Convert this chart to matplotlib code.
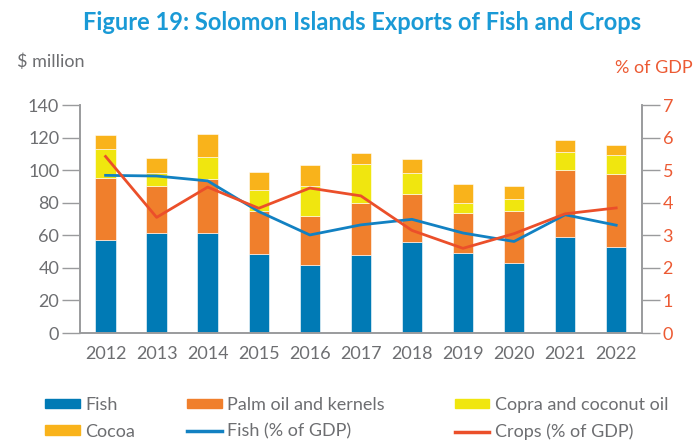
import numpy as np
import matplotlib
matplotlib.use("Agg")
import matplotlib.pyplot as plt
from matplotlib.patches import Patch
from matplotlib.lines import Line2D

plt.rcParams['font.family'] = ['Lato', 'DejaVu Sans']

years = ['2012', '2013', '2014', '2015', '2016', '2017', '2018', '2019', '2020', '2021', '2022']

# $ million
fish = [57.2, 61.7, 61.7, 48.8, 41.5, 48.2, 56.0, 49.3, 43.1, 58.9, 52.9]
palm = [37.8, 28.6, 32.7, 26.4, 30.6, 31.5, 29.4, 24.5, 31.9, 41.2, 44.8]
copra = [17.8, 8.2, 13.9, 12.7, 18.2, 24.1, 12.7, 6.1, 7.4, 10.9, 11.6]
cocoa = [8.8, 9.2, 13.7, 11.0, 12.7, 6.6, 9.0, 11.7, 7.7, 7.7, 6.0]

# % of GDP
fish_gdp = [4.84, 4.82, 4.67, 3.73, 3.01, 3.32, 3.49, 3.07, 2.81, 3.63, 3.31]
crops_gdp = [5.42, 3.55, 4.48, 3.83, 4.45, 4.21, 3.15, 2.60, 3.05, 3.66, 3.84]

c_fish = '#007ab5'
c_palm = '#f07f2c'
c_copra = '#f0e60f'
c_cocoa = '#f9b31b'
c_fish_line = '#1281c2'
c_crops_line = '#eb4f2a'
c_orange_txt = '#ec5a33'
c_grey = '#6d6e71'
c_spine = '#9a9b9d'

fig = plt.figure(figsize=(6.96, 4.44), dpi=100)
ax = fig.add_axes([0.115, 0.25, 0.807, 0.5135])
ax2 = ax.twinx()

x = np.arange(len(years))
w = 0.4
b1 = np.array(fish)
b2 = b1 + np.array(palm)
b3 = b2 + np.array(copra)
ax.bar(x, fish, w, color=c_fish, edgecolor='white', linewidth=0.4)
ax.bar(x, palm, w, bottom=b1, color=c_palm, edgecolor='white', linewidth=0.4)
ax.bar(x, copra, w, bottom=b2, color=c_copra, edgecolor='white', linewidth=0.4)
ax.bar(x, cocoa, w, bottom=b3, color=c_cocoa, edgecolor='white', linewidth=0.4)

ax2.plot(x, fish_gdp, color=c_fish_line, lw=2)
ax2.plot(x, crops_gdp, color=c_crops_line, lw=2)

ax.set_xlim(-0.5, 10.5)
ax.set_ylim(0, 140)
ax.set_yticks(range(0, 141, 20))
ax2.set_ylim(0, 7)
ax2.set_yticks(range(0, 8))
ax.set_xticks(x)
ax.set_xticklabels(years)

for a in (ax, ax2):
    a.spines['top'].set_visible(False)
    for s in ('left', 'right', 'bottom'):
        a.spines[s].set_color(c_spine)
        a.spines[s].set_linewidth(1.2)
ax.tick_params(axis='y', length=13, width=1, color=c_spine, labelsize=13, labelcolor=c_grey, pad=2)
ax.tick_params(axis='x', length=0, labelsize=13, labelcolor=c_grey, pad=9)
ax2.tick_params(axis='y', length=13, width=1, color=c_spine, labelsize=13, labelcolor=c_orange_txt, pad=2)

fig.text(0.52, 0.95, 'Figure 19: Solomon Islands Exports of Fish and Crops',
         ha='center', va='center', fontsize=17, fontweight='bold', color='#1a9ad6')
fig.text(0.025, 0.86, '$ million', ha='left', va='center', fontsize=13, color=c_grey)
fig.text(0.995, 0.847, '% of GDP', ha='right', va='center', fontsize=13, color=c_orange_txt)

# legend: three columns of two entries each
cols = [
    ([Patch(color=c_fish), Patch(color=c_cocoa)], ['Fish', 'Cocoa'], 0.065),
    ([Patch(color=c_palm), Line2D([], [], color=c_fish_line, lw=2.5)],
     ['Palm oil and kernels', 'Fish (% of GDP)'], 0.269),
    ([Patch(color=c_copra), Line2D([], [], color=c_crops_line, lw=2.5)],
     ['Copra and coconut oil', 'Crops (% of GDP)'], 0.654),
]
for handles, labels, xpos in cols:
    leg = fig.legend(handles, labels, loc='upper left', bbox_to_anchor=(xpos, 0.106),
                     frameon=False, fontsize=13, handlelength=1.9, handleheight=0.45,
                     handletextpad=0.3, labelspacing=0.6, borderaxespad=0, borderpad=0)
    for t in leg.get_texts():
        t.set_color(c_grey)

fig.savefig('out.png', dpi=100)
